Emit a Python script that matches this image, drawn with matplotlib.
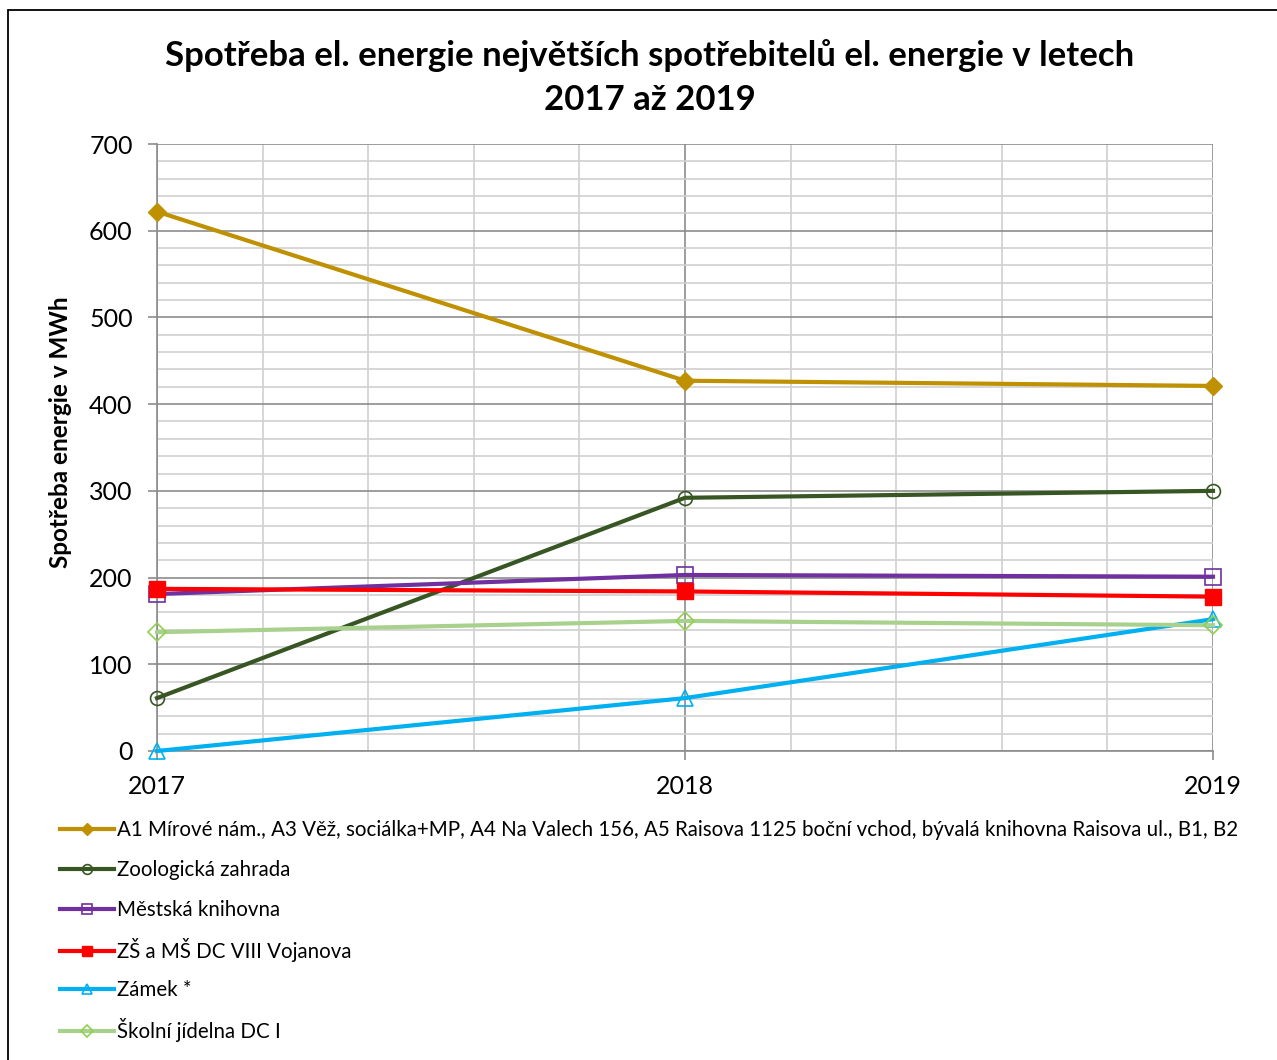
import matplotlib.pyplot as plt
from matplotlib.patches import Rectangle
from matplotlib.ticker import MultipleLocator

plt.rcParams['font.family'] = ['Lato', 'DejaVu Sans']

# data
years = [2017, 2018, 2019]
a1 = [622, 427, 421]
zoo = [61, 292, 300]
knihovna = [181, 203, 201]
zs_ms = [187, 184, 178]
zamek = [0, 61, 152]
jidelna = [137, 150, 145]

labels = [
    "A1 Mírové nám., A3 Věž, sociálka+MP, A4 Na Valech 156, A5 Raisova 1125 boční vchod, bývalá knihovna Raisova ul., B1, B2",
    "Zoologická zahrada",
    "Městská knihovna",
    "ZŠ a MŠ DC VIII Vojanova",
    "Zámek *",
    "Školní jídelna DC I",
]

fig = plt.figure(figsize=(12.77, 10.60), dpi=100)
ax = fig.add_axes([157 / 1277, 1 - 751 / 1060, (1213 - 157) / 1277, (751 - 144) / 1060])

# frame around the chart
fig.patches.append(Rectangle((8 / 1277, -0.01), 1.1, 1 - 10 / 1060 + 0.01,
                             transform=fig.transFigure, fill=False,
                             edgecolor="black", linewidth=1.3))

kw = dict(lw=3, zorder=5, clip_on=False)
lines = []
lines += ax.plot(years, a1, color="#BF9000", marker="D", ms=9, **kw)
lines += ax.plot(years, zoo, color="#375623", marker="o", ms=10, mfc="none", mew=1.2, **kw)
lines += ax.plot(years, knihovna, color="#7030A0", marker="s", ms=11, mfc="none", mew=1.2, **kw)
lines += ax.plot(years, zs_ms, color="#FF0000", marker="s", ms=11, **kw)
lines += ax.plot(years, zamek, color="#00B0F0", marker="^", ms=11, mfc="none", mew=1.2, **kw)
lines += ax.plot(years, jidelna, color="#A9D18E", marker="D", ms=9, mfc="none", mec="#92D050", mew=1.2, **kw)

ax.set_xlim(2017, 2019)
ax.set_ylim(0, 700)
ax.set_xticks(years)
ax.xaxis.set_minor_locator(MultipleLocator(0.2))
ax.yaxis.set_major_locator(MultipleLocator(100))
ax.yaxis.set_minor_locator(MultipleLocator(20))

ax.grid(which="major", color="#8c8c8c", lw=1.2)
ax.grid(which="minor", color="#d0d0d0", lw=1.2)
ax.set_axisbelow(True)

for s in ["top", "right"]:
    ax.spines[s].set_visible(False)
ax.spines["left"].set_color("#8c8c8c")
ax.spines["bottom"].set_color("#8c8c8c")
ax.spines["left"].set_linewidth(1.2)
ax.spines["bottom"].set_linewidth(1.2)

ax.tick_params(axis="both", which="major", labelsize=18, color="#8c8c8c", length=6.5, width=1.2)
ax.tick_params(axis="both", which="minor", length=0)
ax.tick_params(axis="y", pad=11)
ax.tick_params(axis="x", pad=11)

ax.set_ylabel("Spotřeba energie v MWh", fontsize=17.5, fontweight="bold")
ax.yaxis.set_label_coords(-0.0805, 0.5255)

fig.suptitle("Spotřeba el. energie největších spotřebitelů el. energie v letech\n2017 až 2019",
             x=650 / 1277, y=1 - 39 / 1060, fontsize=25, fontweight="bold", linespacing=1.45)

# legend, one row each so the spacing stays even
for i, (ln, lab) in enumerate(zip(lines, labels)):
    y = 830 + 40 * i
    fig.legend([ln], [lab], loc="center left", bbox_to_anchor=(50 / 1277, 1 - y / 1060),
               frameon=False, fontsize=14.8, handlelength=2.6, handletextpad=0.15,
               markerscale=0.7, borderpad=0)

fig.savefig("out.png", dpi=100, facecolor="white")
